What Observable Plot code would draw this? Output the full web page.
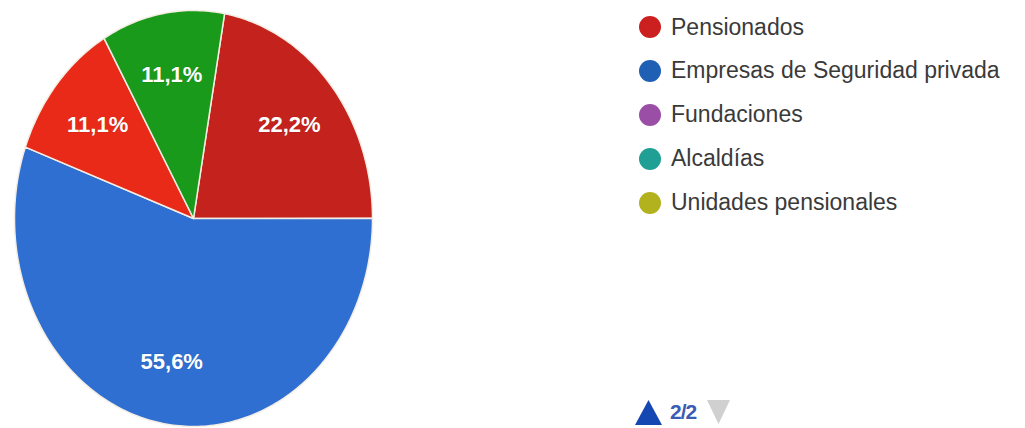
<!DOCTYPE html>
<html>
<head>
<meta charset="utf-8">
<script src="https://cdn.jsdelivr.net/npm/d3@7"></script>
<script src="https://cdn.jsdelivr.net/npm/@observablehq/plot@0.6"></script>
<style>
  html, body { margin: 0; padding: 0; background: #fff; }
  #wrap { position: relative; width: 1025px; height: 428px; overflow: hidden; font-family: "Liberation Sans", Arial, sans-serif; }
  #chart { position: absolute; left: 0; top: 0; }
  .legend { position: absolute; left: 639px; top: 0; }
  .item { position: absolute; left: 0; height: 26px; white-space: nowrap; display: flex; align-items: center; }
  .dot { width: 22px; height: 22px; border-radius: 50%; margin-right: 10px; flex: none; }
  .label { font-size: 23px; color: #3a3a3a; }
  .pager { position: absolute; left: 635px; top: 399px; height: 26px; display: flex; align-items: center; }
</style>
</head>
<body>
<div id="wrap">
  <div id="chart"></div>
  <div class="legend" id="legend"></div>
  <div class="pager" id="pager"></div>
</div>
<script>
// ---- data ----
const sliceNames = ["Pensionados", "Empresas de Seguridad privada", "Otra A", "Otra B"];
const sliceValues = [22.2, 55.6, 11.1, 11.1];
const sliceLabels = ["22,2%", "55,6%", "11,1%", "11,1%"];
const sliceColors = ["#c4221c", "#2f6fd1", "#ea2a18", "#199a1b"];
const startAngleDeg = 10;

const legendNames = ["Pensionados", "Empresas de Seguridad privada", "Fundaciones", "Alcaldías", "Unidades pensionales"];
const legendColors = ["#cc2020", "#1f60b4", "#9a4ea6", "#20a094", "#b2b21e"];
const pageText = "2/2";

// ---- build slices via d3.pie ----
const a0 = startAngleDeg * Math.PI / 180;
const pie = d3.pie().sort(null).startAngle(a0).endAngle(a0 + 2 * Math.PI);
const arcs = pie(sliceValues);

function slicePoints(a, i) {
  const pts = [{slice: i, x: 0, y: 0}];
  const n = Math.max(8, Math.ceil((a.endAngle - a.startAngle) / (Math.PI / 180)));
  for (let k = 0; k <= n; k++) {
    const t = a.startAngle + (a.endAngle - a.startAngle) * k / n;
    pts.push({slice: i, x: Math.sin(t), y: Math.cos(t)});
  }
  pts.push({slice: i, x: 0, y: 0});
  return pts;
}

const labelData = arcs.map((a, i) => {
  const mid = (a.startAngle + a.endAngle) / 2;
  const r = 0.7;
  return {label: sliceLabels[i], x: r * Math.sin(mid), y: r * Math.cos(mid)};
});

const marks = arcs.map((a, i) => Plot.line(slicePoints(a, i), {
  x: "x", y: "y", fill: sliceColors[i], stroke: "#f3eee4", strokeWidth: 1.5, curve: "linear"
}));
marks.push(Plot.text(labelData, {
  x: "x", y: "y", text: "label", fill: "#ffffff", fontSize: 22, fontWeight: "bold",
  fontFamily: "Liberation Sans, Arial, sans-serif", stroke: "rgba(0,0,0,0.12)", strokeWidth: 1
}));

const chart = Plot.plot({
  width: 1025,
  height: 428,
  margin: 0,
  x: {domain: [-1, 1], range: [14, 372], axis: null},
  y: {domain: [-1, 1], range: [426, 10], axis: null},
  style: {background: "transparent"},
  marks
});
document.getElementById("chart").appendChild(chart);

// ---- legend ----
const legend = document.getElementById("legend");
legendNames.forEach((name, i) => {
  const item = document.createElement("div");
  item.className = "item";
  item.style.top = (14 + i * 43.9) + "px";
  const dot = document.createElement("div");
  dot.className = "dot";
  dot.style.background = legendColors[i];
  const lab = document.createElement("span");
  lab.className = "label";
  lab.textContent = name;
  item.appendChild(dot);
  item.appendChild(lab);
  legend.appendChild(item);
});

const pager = document.getElementById("pager");
pager.innerHTML =
  '<svg width="27" height="25" style="display:block"><polygon points="13.5,0 27,25 0,25" fill="#1547b3"/></svg>' +
  '<span style="color:#3a5cb4;margin-left:8px;font-size:21px;font-weight:bold;letter-spacing:-1px">' + pageText + '</span>' +
  '<svg width="23" height="24" style="display:block;margin-left:11px"><polygon points="0,0 23,0 11.5,24" fill="#d0d0d0"/></svg>';
</script>
</body>
</html>
